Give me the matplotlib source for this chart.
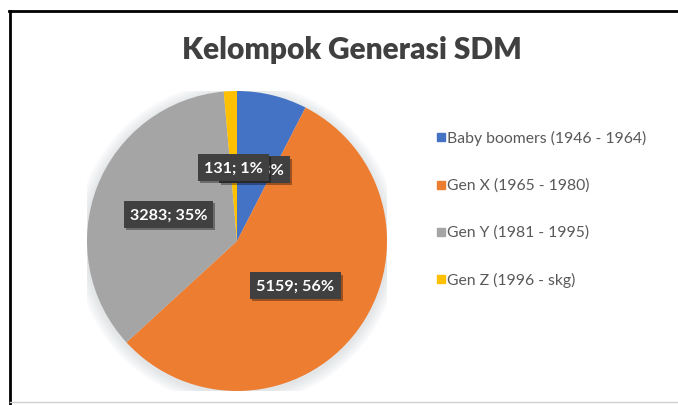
import numpy as np
import matplotlib
matplotlib.use("Agg")
import matplotlib.pyplot as plt
import matplotlib.patheffects as pe
from matplotlib.lines import Line2D
from matplotlib.patches import Circle

plt.rcParams['font.family'] = ['Lato', 'DejaVu Sans']

# data
categories = ["Baby boomers (1946 - 1964)", "Gen X (1965 - 1980)",
              "Gen Y (1981 - 1995)", "Gen Z (1996 - skg)"]
values = [700, 5159, 3283, 131]
colors = ["#4472C4", "#ED7D31", "#A5A5A5", "#FFC000"]
title = "Kelompok Generasi SDM"

W, H = 678, 406
fig = plt.figure(figsize=(W / 100, H / 100), dpi=100)
fig.patch.set_facecolor("white")

# pie axes: centre ~ (237, 242) px, radius 150 px
cx, cy, r = 237, 242, 150
ax = fig.add_axes([(cx - r) / W, (H - cy - r) / H, 2 * r / W, 2 * r / H])

# soft shadow round the pie
for i in range(8):
    ax.add_patch(Circle((0.0, -0.015), 1.0 + 0.01 * (i + 1), color="#9aa4b0",
                        alpha=0.035, lw=0, zorder=0))

wedges, _ = ax.pie(values, colors=colors, startangle=90, counterclock=False,
                   radius=1.0, wedgeprops=dict(linewidth=0))
for w in wedges:
    w.set_zorder(1)
ax.set_xlim(-1, 1)
ax.set_ylim(-1, 1)
ax.axis("off")

# data labels ("value; percent"), same as Excel: later ones sit on top
total = sum(values)
for i, (w, v) in enumerate(zip(wedges, values)):
    ang = np.deg2rad((w.theta1 + w.theta2) / 2)
    x, y = 0.49 * np.cos(ang), 0.49 * np.sin(ang)
    t = ax.text(x, y, f"{v}; {round(100 * v / total)}%", ha="center", va="center",
                color="white", fontsize=11.6, fontweight="bold", zorder=3 + i,
                bbox=dict(boxstyle="square,pad=0.38", fc="#404040", ec="none"))
    t.get_bbox_patch().set_path_effects([
        pe.SimplePatchShadow(offset=(1.5, -1.5), shadow_rgbFace="#000000", alpha=0.35),
        pe.Normal()])

# title
fig.text(352 / W, 1 - 50 / H, title, ha="center", va="center",
         fontsize=21.5, fontweight="heavy", color="#404040")

# legend
leg_y = [138, 186, 233, 280]
for lab, col, ly in zip(categories, colors, leg_y):
    fig.patches.append(plt.Rectangle((437 / W, 1 - (ly + 4) / H), 8 / W, 8 / H,
                                     transform=fig.transFigure, color=col))
    fig.text(447 / W, 1 - ly / H, lab, ha="left", va="center",
             fontsize=11.3, color="#595959")

# frame of the chart
fig.add_artist(Line2D([9 / W, 1], [1 - 12 / H, 1 - 12 / H], color="black", lw=2))
fig.add_artist(Line2D([10 / W, 10 / W], [0, 1 - 12 / H], color="black", lw=2))
fig.add_artist(Line2D([10 / W, 1], [1 - 403 / H, 1 - 403 / H], color="#d0d0d0", lw=1))

fig.savefig("out.png", dpi=100, facecolor="white")
